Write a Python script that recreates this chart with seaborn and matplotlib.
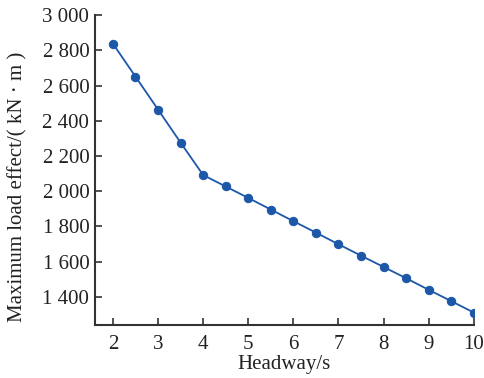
import matplotlib
matplotlib.use("Agg")
import matplotlib.pyplot as plt
import seaborn as sns
import pandas as pd

headway = [2, 2.5, 3, 3.5, 4, 4.5, 5, 5.5, 6, 6.5, 7, 7.5, 8, 8.5, 9, 9.5, 10]
load_effect = [2838, 2651, 2464, 2276, 2092, 2027, 1962, 1896, 1830, 1765, 1699, 1634, 1570, 1506, 1440, 1376, 1311]
y_ticks = [1400, 1600, 1800, 2000, 2200, 2400, 2600, 2800, 3000]
y_tick_labels = ["1 400", "1 600", "1 800", "2 000", "2 200", "2 400", "2 600", "2 800", "3 000"]
x_ticks = [2, 3, 4, 5, 6, 7, 8, 9, 10]

df = pd.DataFrame({"Headway": headway, "Load": load_effect})

sns.set_style("ticks")
plt.rcParams["font.family"] = ["Liberation Serif", "DejaVu Serif"]

fig = plt.figure(figsize=(4.84, 3.78), dpi=100)
ax = fig.add_axes([0.196, 0.140, 0.783, 0.820])
color = "#1c57a8"
sns.lineplot(data=df, x="Headway", y="Load", ax=ax, color=color, linewidth=1.3,
             marker="o", markersize=6, markeredgecolor=color, markerfacecolor=color)

ax.set_xlim(1.6, 10)
ax.set_ylim(1240, 3000)
ax.set_xticks(x_ticks)
ax.set_xticklabels([str(v) for v in x_ticks])
ax.set_yticks(y_ticks)
ax.set_yticklabels(y_tick_labels)
ax.tick_params(direction="in", length=5, width=1.2, colors="#333333", labelsize=15,
               labelcolor="#222222", pad=4)
ax.tick_params(axis="x", pad=7)
for s in ["top", "right"]:
    ax.spines[s].set_visible(False)
for s in ["left", "bottom"]:
    ax.spines[s].set_linewidth(1.5)
    ax.spines[s].set_color("#333333")
ax.set_xlabel("Headway/s", fontsize=15, color="#222222", labelpad=1)
ax.set_ylabel("Maximum load effect/( kN · m )", fontsize=15, color="#222222")
ax.yaxis.set_label_coords(-0.177, 0.445)

fig.savefig("out.png", dpi=100)
